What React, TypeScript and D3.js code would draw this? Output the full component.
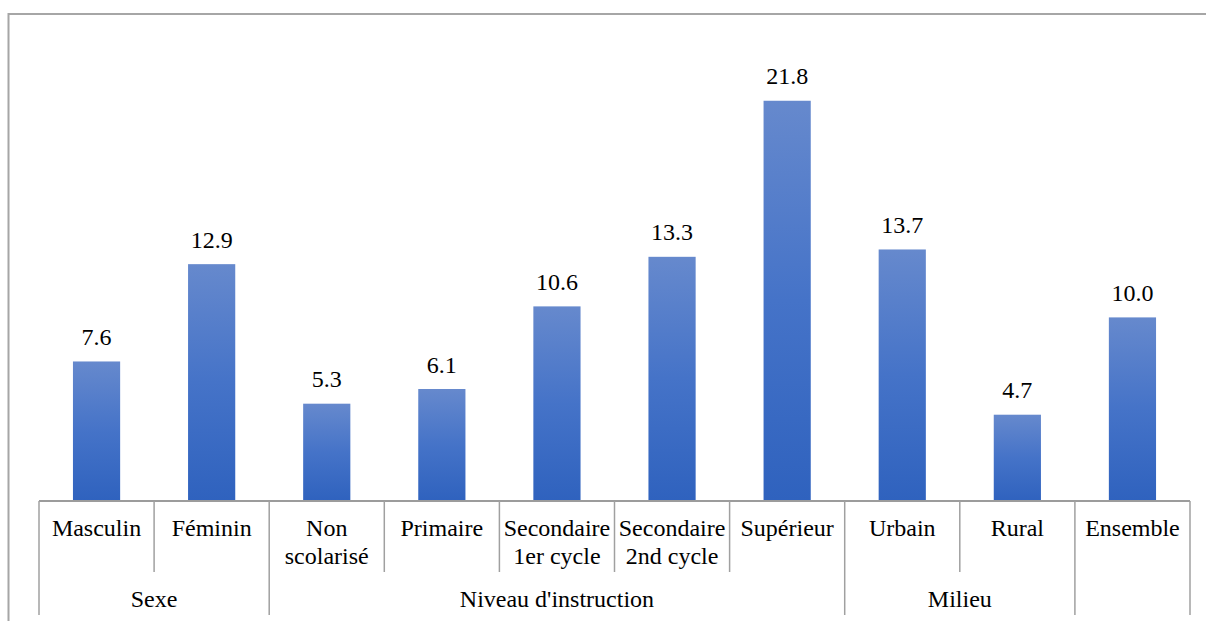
import React from "react";
import * as d3 from "d3";

const categories = [
  "Masculin",
  "Féminin",
  "Non\nscolarisé",
  "Primaire",
  "Secondaire\n1er cycle",
  "Secondaire\n2nd cycle",
  "Supérieur",
  "Urbain",
  "Rural",
  "Ensemble",
];
const values = [7.6, 12.9, 5.3, 6.1, 10.6, 13.3, 21.8, 13.7, 4.7, 10.0];
const groupNames = ["Sexe", "Niveau d'instruction", "Milieu", ""];
const groupSizes = [2, 5, 2, 1];

const W = 1206;
const H = 621;
const FONT = '"Liberation Serif", "Times New Roman", Tinos, "DejaVu Serif", serif';

export default function App() {
  const xCell = d3.scaleBand<string>().domain(categories).range([39, 1190]).padding(0);
  const y = d3.scaleLinear().domain([0, 25]).range([501, 42]);
  const step = xCell.bandwidth();
  const barW = step * 0.41;
  const axisY = y(0);

  const groups: { name: string; start: number; end: number }[] = [];
  let idx = 0;
  groupNames.forEach((g, i) => {
    const s = idx;
    const e = idx + groupSizes[i];
    groups.push({ name: g, start: s, end: e });
    idx = e;
  });
  const groupBoundaryIdx = new Set<number>([0]);
  groups.forEach((g) => groupBoundaryIdx.add(g.end));
  const edge = (i: number) => (xCell(categories[0]) as number) + i * step;
  const txt = { fontFamily: FONT, fontSize: "24px" };

  return (
    <svg
      width={W}
      height={H}
      style={{ position: "absolute", left: 0, top: 0, background: "#fff" }}
    >
      <defs>
        <linearGradient id="barGrad" x1="0" y1="0" x2="0" y2="1">
          <stop offset="0%" stopColor="#6689cd" />
          <stop offset="50%" stopColor="#4573c8" />
          <stop offset="100%" stopColor="#2f62be" />
        </linearGradient>
      </defs>
      <rect x={8.5} y={14} width={1210} height={640} fill="none" stroke="#a6a6a6" strokeWidth={2} />

      {categories.map((c, i) => {
        const cx = (xCell(c) as number) + step / 2;
        const yTop = y(values[i]);
        return (
          <g key={c}>
            <rect
              x={cx - barW / 2}
              y={yTop}
              width={barW}
              height={axisY - yTop}
              fill="url(#barGrad)"
            />
            <text x={cx} y={yTop - 16.5} textAnchor="middle" style={txt} fill="#000">
              {values[i].toFixed(1)}
            </text>
          </g>
        );
      })}

      <line x1={edge(0)} x2={edge(categories.length)} y1={axisY} y2={axisY} stroke="#9c9c9c" strokeWidth={2} />

      {d3.range(categories.length + 1).map((i) => (
        <line
          key={"sep" + i}
          x1={edge(i)}
          x2={edge(i)}
          y1={axisY}
          y2={groupBoundaryIdx.has(i) ? 615 : 572}
          stroke="#a0a0a0"
          strokeWidth={1.5}
        />
      ))}

      {categories.map((c) => {
        const cx = (xCell(c) as number) + step / 2;
        const lines = c.split("\n");
        return (
          <text key={"lbl" + c} textAnchor="middle" style={txt} fill="#000">
            {lines.map((l, j) => (
              <tspan key={j} x={cx} y={536 + j * 28}>
                {l}
              </tspan>
            ))}
          </text>
        );
      })}

      {groups.map((g) =>
        g.name ? (
          <text
            key={"g" + g.name}
            x={(edge(g.start) + edge(g.end)) / 2}
            y={607}
            textAnchor="middle"
            style={txt}
            fill="#000"
          >
            {g.name}
          </text>
        ) : null
      )}
    </svg>
  );
}
